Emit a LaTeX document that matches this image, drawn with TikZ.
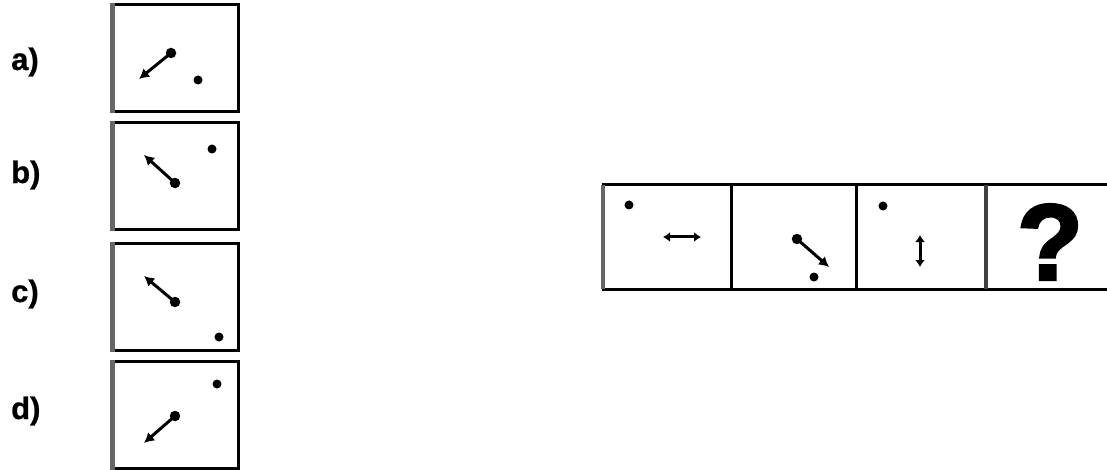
\documentclass[tikz,border=0pt]{standalone}
\usepackage{fontspec}
\setmainfont{Liberation Sans}
\newfontfamily\qfont[FakeBold=2.5]{Liberation Sans Bold}
\newfontfamily\lfont[FakeBold=0.8]{Liberation Sans Bold}
\usetikzlibrary{arrows.meta}
\begin{document}
\begin{tikzpicture}[x=1pt,y=-1pt,
  optbox/.style={draw=black,line width=3pt,minimum width=125pt,minimum height=107pt,inner sep=0pt,rectangle},
  panel/.style={minimum height=104pt,inner sep=0pt,rectangle},
  grayedge/.style={draw=black!60,line width=4.5pt},
  lbl/.style={font=\fontsize{31}{31}\lfont,inner sep=0pt,anchor=west},
  dotn/.style={circle,fill=black,inner sep=0pt,minimum size=9pt},
  startdot/.style={circle,fill=black,inner sep=0pt,minimum size=10.5pt},
  arr/.style={line width=3pt,-{Latex[length=10pt,width=11pt]},shorten <=-1pt},
  darr/.style={line width=3pt,{Latex[length=7pt,width=10pt]}-{Latex[length=7pt,width=10pt]}}
]
\useasboundingbox (0,0) rectangle (1107,470);
\fill[white] (0,0) rectangle (1107,470);
\clip (0,0) rectangle (1107,470);

% option boxes
\node[optbox] (ba) at (175.5,58.5) {};
\node[optbox] (bb) at (175.5,176) {};
\node[optbox] (bc) at (175.5,297) {};
\node[optbox] (bd) at (175.5,415) {};
\foreach \b in {ba,bb,bc,bd}{
  \draw[grayedge] ([xshift=1pt]\b.north west) -- ([xshift=1pt]\b.south west);
}

% labels
\node[lbl] (la) at (11,62) {a)};
\node[lbl] (lb) at (11,175) {b)};
\node[lbl] (lc) at (11,294) {c)};
\node[lbl] (ld) at (11,411) {d)};

% a
\node[startdot] (a1) at (171,53) {};
\coordinate (a2) at (139,79);
\draw[arr] (a1.center) -- (a2);
\node[dotn] (a3) at (198,80) {};
% b
\node[startdot] (b1) at (175,183) {};
\coordinate (b2) at (144,155);
\draw[arr] (b1.center) -- (b2);
\node[dotn] (b3) at (212,149) {};
% c
\node[startdot] (c1) at (175,302) {};
\coordinate (c2) at (144,276);
\draw[arr] (c1.center) -- (c2);
\node[dotn] (c3) at (219,337) {};
% d
\node[startdot] (d1) at (175,416) {};
\coordinate (d2) at (144,443);
\draw[arr] (d1.center) -- (d2);
\node[dotn] (d3) at (217,384) {};

% sequence strip
\node[panel,minimum width=129pt] (p1) at (666.5,237) {};
\node[panel,minimum width=125pt] (p2) at (793.5,237) {};
\node[panel,minimum width=130pt] (p3) at (921,237) {};
\node[panel,minimum width=140pt] (p4) at (1056,237) {};
\draw[line width=3pt] (p1.north west) -- (p4.north east);
\draw[line width=3pt] (p1.south west) -- (p4.south east);
\draw[grayedge] ([xshift=1pt]p1.north west) -- ([xshift=1pt]p1.south west);
\draw[line width=3pt] (p1.north east) -- (p1.south east);
\draw[line width=3pt] (p2.north east) -- (p2.south east);
\draw[line width=3.5pt,black!75] (p3.north east) -- (p3.south east);

% panel 1
\node[dotn] (q1) at (629,205) {};
\coordinate (q1l) at (663,237);
\coordinate (q1r) at (701,237);
\draw[darr] (q1l) -- (q1r);
% panel 2
\node[startdot] (q2a) at (797,239) {};
\coordinate (q2b) at (829,267);
\draw[arr] (q2a.center) -- (q2b);
\node[dotn] (q2c) at (814,277) {};
% panel 3
\node[dotn] (q3) at (883,206) {};
\coordinate (q3t) at (920,235);
\coordinate (q3b) at (920,267);
\draw[darr] (q3t) -- (q3b);
% panel 4
\node[font=\fontsize{108}{108}\qfont,inner sep=0pt] (qm) at (1050,242) {?};
\end{tikzpicture}
\end{document}
